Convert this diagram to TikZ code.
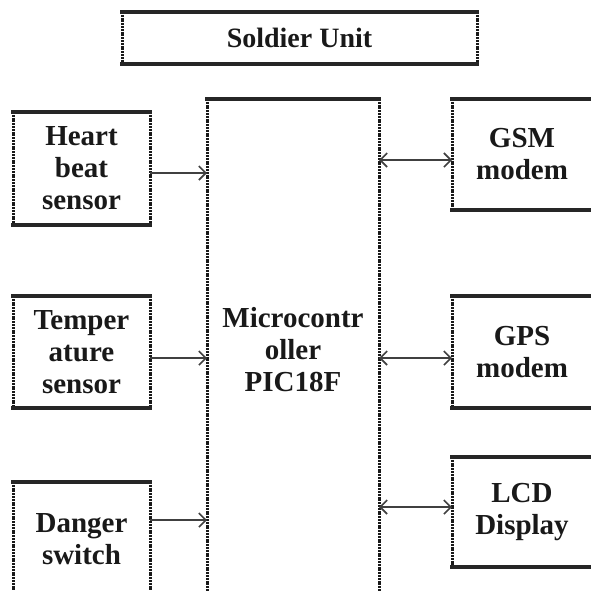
\documentclass[tikz,border=0pt]{standalone}
\usepackage{fontspec}
\setmainfont{Liberation Serif}
\usetikzlibrary{positioning,arrows.meta,calc}

\begin{document}
\begin{tikzpicture}[
    x=1pt, y=-1pt,
    unit/.style={rectangle, inner sep=0pt, outer sep=0pt, align=center, text=black!90,
        font=\bfseries\fontsize{29}{32}\selectfont},
    edge/.style={line width=3.5pt, black!85, line cap=rect},
    side/.style={line width=3pt, black!90, dash pattern=on 2pt off 0.8pt},
    link/.style={-{Straight Barb[length=7pt,width=14pt]}, line width=1.6pt, black!75},
    duplex/.style={{Straight Barb[length=7pt,width=14pt]}-{Straight Barb[length=7pt,width=14pt]}, line width=1.6pt, black!75}
]

\useasboundingbox (0,0) rectangle (591,590);
\clip (0,0) rectangle (591,590);

% Title
\node[unit, minimum width=355pt, minimum height=52pt, font=\bfseries\fontsize{28}{30}\selectfont] (title) at (299.5,38) {Soldier Unit};

% Sensors
\node[unit, minimum width=137pt, minimum height=113pt] (heart) at (81.5,168.5) {Heart\\beat\\sensor};
\node[unit, minimum width=137pt, minimum height=112pt] (temp) at (81.5,352) {Temper\\ature\\sensor};
\node[unit, minimum width=137pt, minimum height=114pt] (danger) at (81.5,539) {Danger\\switch};

% Controller
\node[unit, minimum width=172pt, minimum height=501pt] (micro) at (293,349.5) {Microcontr\\oller\\PIC18F};

% Modems and display
\node[unit, minimum width=140pt, minimum height=111pt] (gsm) at (522,154.5) {GSM\\modem};
\node[unit, minimum width=140pt, minimum height=112pt] (gps) at (522,352) {GPS\\modem};
\node[unit, minimum width=140pt, minimum height=110pt] (lcd) at (522,512) {LCD\\Display};

% Borders
\foreach \n in {title,heart,temp,danger,micro,gsm,gps,lcd} {
    \draw[side] (\n.north west) -- (\n.south west);
    \draw[side] (\n.north east) -- (\n.south east);
    \draw[edge] (\n.north west) -- (\n.north east);
    \draw[edge] (\n.south west) -- (\n.south east);
}

% Inputs
\draw[link] ([yshift=-4.5pt]heart.east) -- ([yshift=-4.5pt]heart.east -| micro.west);
\draw[link] ([yshift=-6pt]temp.east) -- ([yshift=-6pt]temp.east -| micro.west);
\draw[link] ([yshift=19pt]danger.east) -- ([yshift=19pt]danger.east -| micro.west);

% Outputs
\draw[duplex] ([yshift=-5.5pt]gsm.west -| micro.east) -- ([yshift=-5.5pt]gsm.west);
\draw[duplex] ([yshift=-6pt]gps.west -| micro.east) -- ([yshift=-6pt]gps.west);
\draw[duplex] ([yshift=5pt]lcd.west -| micro.east) -- ([yshift=5pt]lcd.west);

\end{tikzpicture}
\end{document}
